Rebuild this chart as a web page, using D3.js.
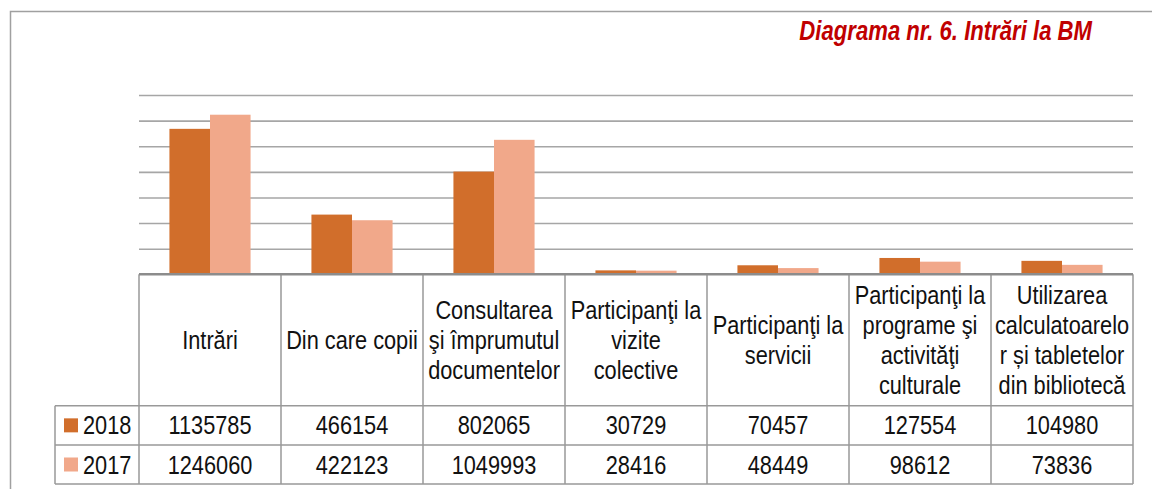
<!DOCTYPE html>
<html>
<head>
<meta charset="utf-8">
<script src="https://cdn.jsdelivr.net/npm/d3@7"></script>
<style>
html,body{margin:0;padding:0;background:#fff;}
svg{display:block;}
</style>
</head>
<body>
<svg id="chart" width="1152" height="489"></svg>
<script>
const categories = [
  ["Intrări"],
  ["Din care copii"],
  ["Consultarea", "şi împrumutul", "documentelor"],
  ["Participanţi la", "vizite", "colective"],
  ["Participanţi la", "servicii"],
  ["Participanţi la", "programe şi", "activităţi", "culturale"],
  ["Utilizarea", "calculatoarelo", "r și tabletelor", "din bibliotecă"]
];
const seriesNames = ["2018", "2017"];
const values2018 = [1135785, 466154, 802065, 30729, 70457, 127554, 104980];
const values2017 = [1246060, 422123, 1049993, 28416, 48449, 98612, 73836];
const gridValues = [200000, 400000, 600000, 800000, 1000000, 1200000, 1400000];
const titleText = "Diagrama nr. 6. Intrări la BM";

const colors = {"2018": "#D16E2B", "2017": "#F1A88A"};
const series = {"2018": values2018, "2017": values2017};

const svg = d3.select("#chart");

const FONT = "'Liberation Sans', Arial, sans-serif";

function txt(g, x, y, s, opts = {}) {
  const sx = opts.sx || 0.87;
  return g.append("text")
    .attr("transform", `translate(${x},${y}) scale(${sx},1)`)
    .attr("font-family", FONT)
    .attr("font-size", opts.size || 25)
    .attr("font-weight", opts.weight || "normal")
    .attr("font-style", opts.style || "normal")
    .attr("fill", opts.fill || "#111")
    .attr("text-anchor", opts.anchor || "middle")
    .text(s);
}

const left = 139, right = 1133;
const baseY = 274.3, topY = 95;
const headerBottom = 405.7, row1Bottom = 445, row2Bottom = 484;
const legendLeft = 55;

const x0 = d3.scaleBand().domain(d3.range(categories.length)).range([left, right]).paddingInner(0).paddingOuter(0);
const x1 = d3.scaleBand().domain(seriesNames).range([0, x0.bandwidth()]).paddingInner(0).paddingOuter(0.75);
const y = d3.scaleLinear().domain([0, 1400000]).range([baseY, topY]);

// outer frame
svg.append("rect").attr("x", 10.5).attr("y", 11.5).attr("width", 1200).attr("height", 600)
  .attr("fill", "none").attr("stroke", "#A0A0A0").attr("stroke-width", 1.5);

// gridlines
const yAxis = d3.axisLeft(y).tickValues(gridValues).tickSize(-(right - left)).tickFormat("");
const ga = svg.append("g").attr("transform", `translate(${left},0)`).call(yAxis);
ga.select(".domain").remove();
ga.selectAll(".tick line").attr("stroke", "#A6A6A6").attr("stroke-width", 1.6);

// bars
const gBars = svg.append("g");
categories.forEach((c, i) => {
  seriesNames.forEach(s => {
    const v = series[s][i];
    gBars.append("rect")
      .attr("x", x0(i) + x1(s))
      .attr("y", y(v))
      .attr("width", x1.bandwidth())
      .attr("height", baseY - y(v))
      .attr("fill", colors[s]);
  });
});

// table lines
const lineColor = "#999999";
const gT = svg.append("g");
function hline(x1_, x2_, yy, w) {
  gT.append("line").attr("x1", x1_).attr("x2", x2_).attr("y1", yy).attr("y2", yy)
    .attr("stroke", lineColor).attr("stroke-width", w || 1.5);
}
function vline(xx, y1_, y2_, w) {
  gT.append("line").attr("x1", xx).attr("x2", xx).attr("y1", y1_).attr("y2", y2_)
    .attr("stroke", lineColor).attr("stroke-width", w || 1.5);
}
hline(legendLeft, right, headerBottom);
hline(legendLeft, right, row1Bottom);
hline(legendLeft, right, row2Bottom);
vline(legendLeft, headerBottom, row2Bottom);
d3.range(categories.length + 1).forEach(i => {
  const xx = i < categories.length ? x0(i) : right;
  vline(xx, baseY, row2Bottom);
});
// category axis line (thicker)
svg.append("line").attr("x1", left).attr("x2", right).attr("y1", baseY).attr("y2", baseY)
  .attr("stroke", "#8C8C8C").attr("stroke-width", 2.4);

// header texts
const gH = svg.append("g");
const headerMid = (baseY + headerBottom) / 2;
const lh = 30;
categories.forEach((lines, i) => {
  const cx = x0(i) + x0.bandwidth() / 2;
  const n = lines.length;
  lines.forEach((l, k) => {
    const cy = headerMid + (k - (n - 1) / 2) * lh;
    txt(gH, cx, cy + 9, l);
  });
});

// data rows
const rows = [
  {name: "2018", vals: values2018, top: headerBottom, bot: row1Bottom},
  {name: "2017", vals: values2017, top: row1Bottom, bot: row2Bottom}
];
rows.forEach(r => {
  const cy = (r.top + r.bot) / 2;
  r.vals.forEach((v, i) => {
    txt(gH, x0(i) + x0.bandwidth() / 2, cy + 9, String(v));
  });
  gH.append("rect").attr("x", 64).attr("y", cy - 7).attr("width", 14).attr("height", 14).attr("fill", colors[r.name]);
  txt(gH, 83, cy + 9, r.name, {anchor: "start"});
});

// title
txt(svg, 1092, 40, titleText, {size: 27, weight: "bold", style: "italic", fill: "#C00000", anchor: "end", sx: 0.82});
</script>
</body>
</html>
